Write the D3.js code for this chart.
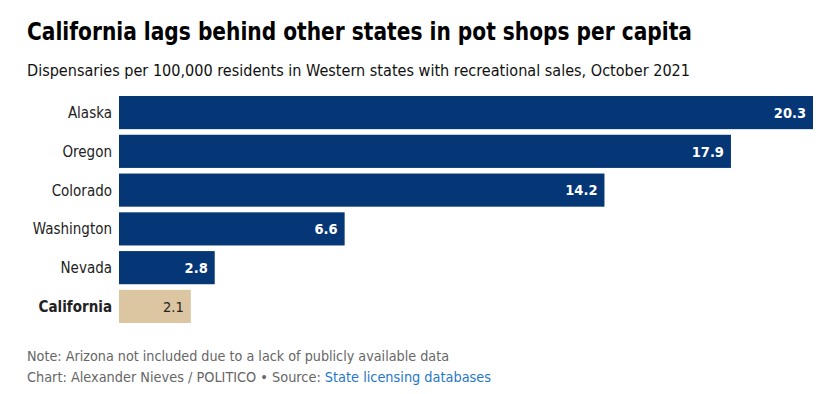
<!DOCTYPE html>
<meta charset="utf-8">
<style>
body { margin: 0; background: #fff; font-family: "DejaVu Sans Condensed", "DejaVu Sans", sans-serif; }
.label { font-size: 15px; fill: #222; text-anchor: end; }
.value { font-size: 14.5px; text-anchor: end; }
.foot { font-size: 13.5px; fill: #666; }
</style>
<body>
<script src="https://d3js.org/d3.v7.min.js"></script>
<script>

var states = ["Alaska", "Oregon", "Colorado", "Washington", "Nevada", "California"];
var perCapita = [20.3, 17.9, 14.2, 6.6, 2.8, 2.1];
var highlight = "California";

var width = 838, height = 394;

var svg = d3.select("body").append("svg")
    .attr("width", width)
    .attr("height", height);

var x = d3.scaleLinear()
    .domain([0, 20.3])
    .range([119, 813]);

var y = d3.scaleBand()
    .domain(states)
    .range([96, 323])
    .paddingInner(0.145)
    .paddingOuter(0);

// fit a text element to a width measured off the reference
function fit(sel, w) {
  sel.attr("textLength", w).attr("lengthAdjust", "spacingAndGlyphs");
}

svg.append("text")
    .attr("x", 27)
    .attr("y", 40)
    .style("font-size", "25px")
    .style("font-weight", "bold")
    .style("fill", "#000")
    .text("California lags behind other states in pot shops per capita")
    .call(fit, 665);

svg.append("text")
    .attr("x", 27)
    .attr("y", 76)
    .style("font-size", "15.5px")
    .style("fill", "#111")
    .text("Dispensaries per 100,000 residents in Western states with recreational sales, October 2021")
    .call(fit, 663);

var row = svg.selectAll(".row")
    .data(states)
  .enter().append("g")
    .attr("class", "row");

row.append("rect")
    .attr("x", x(0))
    .attr("y", function(d) { return y(d); })
    .attr("width", function(d, i) { return x(perCapita[i]) - x(0); })
    .attr("height", y.bandwidth())
    .style("fill", function(d) { return d === highlight ? "#dcc5a1" : "#053676"; });

row.append("text")
    .attr("class", "label")
    .attr("x", 112)
    .attr("y", function(d) { return y(d) + y.bandwidth() / 2; })
    .attr("dy", ".36em")
    .style("font-weight", function(d) { return d === highlight ? "bold" : "normal"; })
    .text(function(d) { return d; });

row.append("text")
    .attr("class", "value")
    .attr("x", function(d, i) { return x(perCapita[i]) - 7; })
    .attr("y", function(d) { return y(d) + y.bandwidth() / 2; })
    .attr("dy", ".36em")
    .style("font-weight", function(d) { return d === highlight ? "normal" : "bold"; })
    .style("fill", function(d) { return d === highlight ? "#222" : "#fff"; })
    .text(function(d, i) { return d3.format(".1f")(perCapita[i]); });

svg.append("text")
    .attr("class", "foot")
    .attr("x", 27)
    .attr("y", 361)
    .text("Note: Arizona not included due to a lack of publicly available data")
    .call(fit, 422);

var src = svg.append("text")
    .attr("class", "foot")
    .attr("x", 27)
    .attr("y", 382)
    .call(fit, 464);

src.append("tspan").text("Chart: Alexander Nieves / POLITICO \u2022 Source: ");
src.append("tspan").style("fill", "#1f77c9").text("State licensing databases");

</script>
</body>
